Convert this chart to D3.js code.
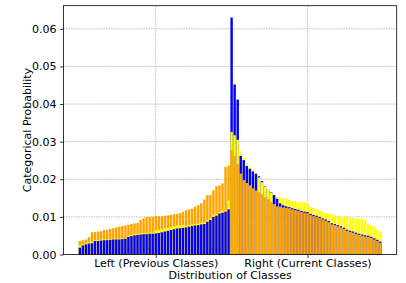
<!DOCTYPE html>
<html>
<head>
<meta charset="utf-8">
<script src="https://cdn.jsdelivr.net/npm/d3@7"></script>
<style>
  html, body { margin: 0; padding: 0; background: #fff; }
  svg { display: block; font-family: "DejaVu Sans", sans-serif; }
</style>
</head>
<body>
<div id="chart"></div>
<script>
// class 0..49 = previous classes, 50..99 = current classes
const blueVals = [
  0.0018, 0.0024, 0.0027, 0.0029, 0.0030, 0.0036, 0.0036, 0.0037, 0.0038, 0.0038,
  0.0039, 0.0040, 0.0040, 0.0040, 0.0041, 0.0042, 0.0047, 0.0049, 0.0051, 0.0052,
  0.0053, 0.0054, 0.0054, 0.0055, 0.0055, 0.0056, 0.0057, 0.0059, 0.0061, 0.0063,
  0.0065, 0.0067, 0.0069, 0.0070, 0.0071, 0.0072, 0.0074, 0.0076, 0.0077, 0.0078,
  0.0080, 0.0081, 0.0087, 0.0092, 0.0100, 0.0103, 0.0109, 0.0111, 0.0114, 0.0120,
  0.0630, 0.0452, 0.0412, 0.0262, 0.0251, 0.0235, 0.0228, 0.0221, 0.0215, 0.0208,
  0.0195, 0.0181, 0.0172, 0.0166, 0.0158, 0.0148, 0.0136, 0.0131, 0.0128, 0.0126,
  0.0123, 0.0121, 0.0119, 0.0116, 0.0114, 0.0113, 0.0108, 0.0105, 0.0103, 0.0100,
  0.0096, 0.0093, 0.0089, 0.0083, 0.0081, 0.0078, 0.0075, 0.0071, 0.0066, 0.0063,
  0.0061, 0.0058, 0.0055, 0.0053, 0.0051, 0.0050, 0.0047, 0.0043, 0.0039, 0.0034
];
const yellowVals = [
  0.0024, 0.0027, 0.0030, 0.0032, 0.0034, 0.0038, 0.0038, 0.0039, 0.0040, 0.0040,
  0.0041, 0.0042, 0.0042, 0.0042, 0.0043, 0.0044, 0.0050, 0.0052, 0.0054, 0.0055,
  0.0056, 0.0057, 0.0057, 0.0058, 0.0058, 0.0064, 0.0065, 0.0067, 0.0069, 0.0071,
  0.0073, 0.0075, 0.0077, 0.0078, 0.0079, 0.0076, 0.0078, 0.0080, 0.0081, 0.0082,
  0.0084, 0.0085, 0.0091, 0.0096, 0.0104, 0.0107, 0.0113, 0.0115, 0.0118, 0.0143,
  0.0326, 0.0317, 0.0305, 0.0273, 0.0256, 0.0242, 0.0232, 0.0226, 0.0216, 0.0205,
  0.0192, 0.0180, 0.0172, 0.0165, 0.0160, 0.0152, 0.0150, 0.0150, 0.0149, 0.0146,
  0.0142, 0.0141, 0.0140, 0.0140, 0.0139, 0.0136, 0.0126, 0.0123, 0.0120, 0.0118,
  0.0113, 0.0110, 0.0109, 0.0107, 0.0104, 0.0102, 0.0101, 0.0100, 0.0099, 0.0097,
  0.0097, 0.0096, 0.0095, 0.0094, 0.0092, 0.0080, 0.0077, 0.0074, 0.0066, 0.0062
];
const orangeVals = [
  0.0036, 0.0038, 0.0040, 0.0046, 0.0059, 0.0060, 0.0061, 0.0062, 0.0065, 0.0066,
  0.0068, 0.0070, 0.0072, 0.0074, 0.0076, 0.0077, 0.0079, 0.0081, 0.0083, 0.0084,
  0.0092, 0.0096, 0.0100, 0.0100, 0.0101, 0.0102, 0.0102, 0.0102, 0.0103, 0.0104,
  0.0105, 0.0107, 0.0108, 0.0110, 0.0113, 0.0118, 0.0120, 0.0122, 0.0127, 0.0131,
  0.0136, 0.0146, 0.0158, 0.0158, 0.0171, 0.0182, 0.0184, 0.0189, 0.0233, 0.0237,
  0.0277, 0.0262, 0.0240, 0.0215, 0.0198, 0.0190, 0.0184, 0.0176, 0.0170, 0.0165,
  0.0160, 0.0152, 0.0147, 0.0140, 0.0134, 0.0128, 0.0127, 0.0125, 0.0124, 0.0123,
  0.0120, 0.0118, 0.0116, 0.0113, 0.0111, 0.0110, 0.0105, 0.0102, 0.0100, 0.0097,
  0.0093, 0.0090, 0.0086, 0.0080, 0.0078, 0.0075, 0.0072, 0.0068, 0.0063, 0.0060,
  0.0058, 0.0055, 0.0052, 0.0050, 0.0048, 0.0047, 0.0044, 0.0040, 0.0036, 0.0031
];
const seriesColors = ["#0000ff", "#ffff00", "#ffa500"];
const xTickPos = [25, 75];
const xTickLabels = ["Left (Previous Classes)", "Right (Current Classes)"];
const yTickVals = [0, 0.01, 0.02, 0.03, 0.04, 0.05, 0.06];

const W = 406, H = 283;
const margin = { top: 5.7, right: 9.3, bottom: 28.5, left: 63.5 };
const innerW = W - margin.left - margin.right;
const innerH = H - margin.top - margin.bottom;

const svg = d3.select("#chart").append("svg").attr("width", W).attr("height", H);
const g = svg.append("g").attr("transform", `translate(${margin.left},${margin.top})`);

const n = blueVals.length;
const barW = 0.8;
const pad = (n - 1 + barW) * 0.05;
const x = d3.scaleLinear().domain([-barW / 2 - pad, n - 1 + barW / 2 + pad]).range([0, innerW]);
const allVals = blueVals.concat(yellowVals, orangeVals);
const y = d3.scaleLinear().domain([0, d3.max(allVals) * 1.05]).range([innerH, 0]);

// grid
g.append("g").selectAll("line").data(yTickVals.slice(1)).join("line")
  .attr("x1", 0).attr("x2", innerW)
  .attr("y1", d => y(d)).attr("y2", d => y(d))
  .attr("stroke", "#b0b0b0").attr("stroke-width", 0.8).attr("stroke-dasharray", "1.5,1");
g.append("g").selectAll("line").data(xTickPos).join("line")
  .attr("x1", d => x(d)).attr("x2", d => x(d))
  .attr("y1", 0).attr("y2", innerH)
  .attr("stroke", "#b0b0b0").attr("stroke-width", 0.8).attr("stroke-dasharray", "1.5,1");

// bars: at each class the taller bars sit behind the shorter ones
const bars = [];
d3.range(n).forEach(i => {
  const vals = [blueVals[i], yellowVals[i], orangeVals[i]];
  const order = d3.range(3).sort((a, b) => vals[b] - vals[a]);
  order.forEach(s => bars.push({ i, s, v: vals[s] }));
});
const bw = x(barW) - x(0);
g.append("g").selectAll("rect").data(bars).join("rect")
  .attr("x", d => x(d.i) - bw / 2)
  .attr("width", bw)
  .attr("y", d => y(d.v))
  .attr("height", d => y(0) - y(d.v))
  .attr("fill", d => seriesColors[d.s]);

// frame
g.append("rect").attr("width", innerW).attr("height", innerH)
  .attr("fill", "none").attr("stroke", "#000").attr("stroke-width", 0.8);

// axes
const yAxis = g.append("g")
  .call(d3.axisLeft(y).tickValues(yTickVals).tickFormat(d3.format(".2f")).tickSize(3.5).tickPadding(3.5));
yAxis.select(".domain").remove();
yAxis.selectAll("text").attr("font-size", 11).attr("fill", "#000").attr("font-family", "DejaVu Sans");
yAxis.selectAll("line").attr("stroke", "#000").attr("stroke-width", 0.8);

const xAxis = g.append("g").attr("transform", `translate(0,${innerH})`)
  .call(d3.axisBottom(x).tickValues(xTickPos).tickFormat((d, k) => xTickLabels[k]).tickSize(3.5).tickPadding(1.5));
xAxis.select(".domain").remove();
xAxis.selectAll("text").attr("font-size", 11).attr("fill", "#000").attr("font-family", "DejaVu Sans");
xAxis.selectAll("line").attr("stroke", "#000").attr("stroke-width", 0.8);

svg.append("text")
  .attr("x", margin.left + innerW / 2).attr("y", H - 4)
  .attr("text-anchor", "middle").attr("font-size", 11)
  .text("Distribution of Classes");

svg.append("text")
  .attr("transform", `translate(${27},${margin.top + innerH / 2}) rotate(-90)`)
  .attr("text-anchor", "middle").attr("dy", "0.35em").attr("font-size", 11)
  .text("Categorical Probability");
</script>
</body>
</html>
